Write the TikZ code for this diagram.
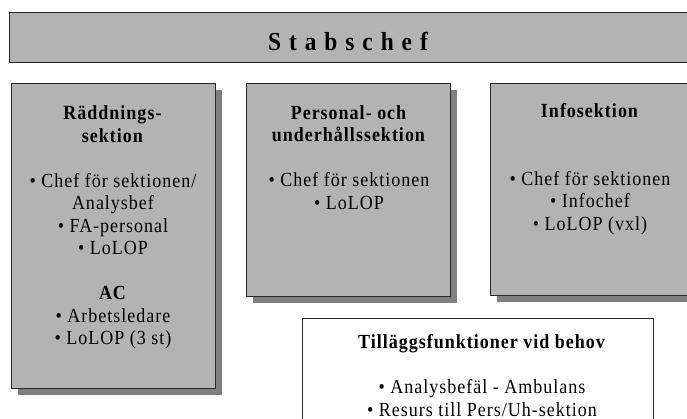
\documentclass[tikz,border=0pt]{standalone}
\usepackage{fontspec}
\setmainfont{Liberation Serif}[LetterSpace=5, FakeStretch=0.9]
\newfontfamily\headfont{Liberation Serif}[LetterSpace=8, FakeStretch=0.9]
\usetikzlibrary{shadows}
\definecolor{boxgray}{RGB}{179,179,179}
\definecolor{shadowgray}{RGB}{128,128,128}
\definecolor{edgegray}{RGB}{40,40,40}
\tikzset{
  panel/.style={draw=edgegray, line width=0.9pt, fill=boxgray, inner sep=0pt},
  shadowed/.style={drop shadow={shadow xshift=7pt, shadow yshift=-7pt, fill=shadowgray, opacity=1}},
  whitepanel/.style={draw=edgegray, line width=0.9pt, fill=white, inner sep=0pt},
  bodytext/.style={align=center, inner sep=0pt, font=\fontsize{20}{22.5}\selectfont},
  headtext/.style={inner sep=0pt, font=\headfont\fontsize{26}{30}\selectfont\bfseries},
}
\begin{document}
\begin{tikzpicture}[x=1pt, y=-1pt]
  \useasboundingbox (0,0) rectangle (687,419);
  \begin{scope}
    \clip (0,0) rectangle (687,419);
    % chief of staff banner
    \node[panel, minimum width=700pt, minimum height=50pt, anchor=north west] (chief) at (9,12) {};
    \node[headtext] (chieftext) at (348,41) {S t a b s c h e f};
    % section panels
    \node[panel, shadowed, minimum width=204pt, minimum height=305pt, anchor=north west] (rescue) at (11,83) {};
    \node[panel, shadowed, minimum width=204pt, minimum height=213pt, anchor=north west] (staff) at (246,83) {};
    \node[panel, shadowed, minimum width=204pt, minimum height=212pt, anchor=north west] (info) at (490,83) {};
    \node[whitepanel, minimum width=351pt, minimum height=120pt, anchor=north west] (extra) at (302,318) {};
    % panel contents
    \node[bodytext] (rescuetext) at (113,227.5) {%
      \textbf{Räddnings-}\\ \textbf{sektion}\\ \mbox{}\\
      • Chef för sektionen/\\ Analysbef\\ • FA-personal\\ • LoLOP\\ \mbox{}\\
      \textbf{AC}\\ • Arbetsledare\\ • LoLOP (3 st)};
    \node[bodytext] (stafftext) at (349,157.5) {%
      \textbf{Personal- och}\\ \textbf{underhållssektion}\\ \mbox{}\\
      • Chef för sektionen\\ • LoLOP};
    \node[bodytext] (infotext) at (590,169) {%
      \textbf{Infosektion}\\ \mbox{}\\ \mbox{}\\
      • Chef för sektionen\\ • Infochef\\ • LoLOP (vxl)};
    \node[bodytext] (extratext) at (482,375.5) {%
      \textbf{Tilläggsfunktioner vid behov}\\ \mbox{}\\
      • Analysbefäl - Ambulans\\ • Resurs till Pers/Uh-sektion};
  \end{scope}
\end{tikzpicture}
\end{document}
